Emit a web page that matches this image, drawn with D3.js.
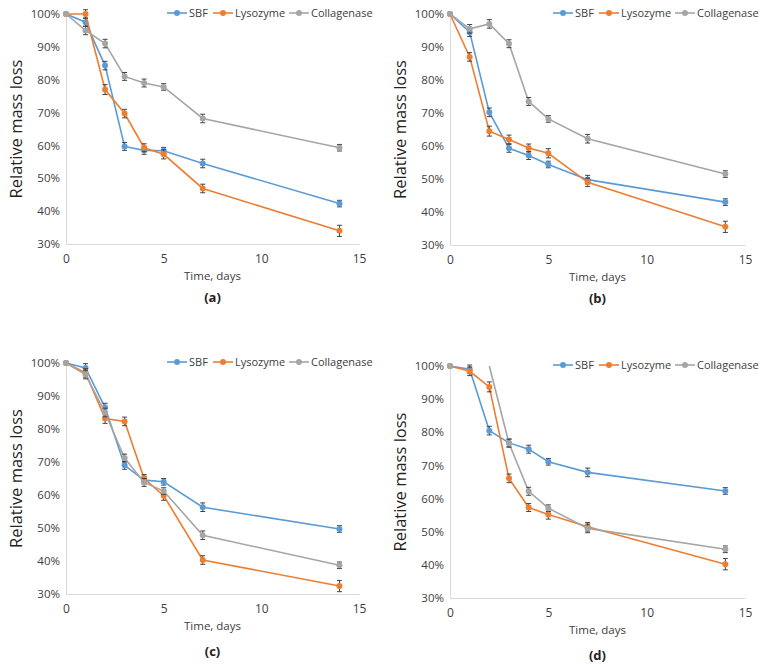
<!DOCTYPE html>
<html><head><meta charset="utf-8">
<script src="https://cdn.jsdelivr.net/npm/d3@7"></script>
<style>body{margin:0;background:#fff;font-family:"Open Sans",Arial,sans-serif}</style>
</head><body><svg width="763" height="667"></svg>
<script>
const days = [0, 1, 2, 3, 4, 5, 7, 14];
const seriesNames = ["SBF", "Lysozyme", "Collagenase"];
const colors = ["#5B9BD5", "#ED7D31", "#A5A5A5"];
const panelLabels = ["(a)", "(b)", "(c)", "(d)"];
const yTicks = [30, 40, 50, 60, 70, 80, 90, 100];
const xTicks = [0, 5, 10, 15];

const sbfA = [100, 97.5, 84.3, 59.7, 58.5, 58.4, 54.5, 42.3];
const lysA = [100, 100, 77, 69.7, 59.3, 57.3, 46.9, 34];
const colA = [100, 95, 91, 81, 79, 77.8, 68.2, 59.3];
const sbfB = [100, 94.5, 70.2, 59.3, 57.1, 54.4, 49.8, 43];
const lysB = [100, 87, 64.5, 62, 59.4, 57.8, 49, 35.5];
const colB = [100, 95.5, 97, 91, 73.5, 68.2, 62.2, 51.5];
const sbfC = [100, 98.5, 86.5, 69, 64.5, 64, 56.3, 49.7];
const lysC = [100, 97, 83.2, 82.3, 65, 59.8, 40.3, 32.4];
const colC = [100, 96.5, 85, 71.2, 63.8, 61.2, 47.8, 38.7];
const sbfD = [100, 99, 80.5, 76.8, 74.9, 71.1, 67.9, 62.3];
const lysD = [100, 98.4, 93.7, 66.1, 57.3, 55.2, 51.5, 40.2];
const colD = [100, null, 100, 76.7, 62.2, 57.1, 51, 44.7];
const errSmall = [0, 1.3, 1.3, 1.2, 1.2, 1, 1.3, 1];
const errLarge = [0, 1.3, 1.5, 1.3, 1.2, 1.4, 1.3, 1.7];

const panels = [
  {x0: 66, x1: 359, y0: 14, y1: 244, series: [sbfA, lysA, colA]},
  {x0: 450, x1: 745, y0: 14, y1: 245, series: [sbfB, lysB, colB]},
  {x0: 66, x1: 359, y0: 363, y1: 594, series: [sbfC, lysC, colC]},
  {x0: 450, x1: 745, y0: 366, y1: 598, series: [sbfD, lysD, colD]}
];

const svg = d3.select("svg");

panels.forEach((p, pi) => {
  const x = d3.scaleLinear().domain([0, 15]).range([p.x0, p.x1]);
  const y = d3.scaleLinear().domain([30, 100]).range([p.y1, p.y0]);
  const g = svg.append("g");

  g.append("g").attr("transform", `translate(0,${p.y1})`)
    .call(d3.axisBottom(x).tickValues(xTicks).tickSize(0).tickPadding(10))
    .call(a => a.select(".domain").attr("stroke", "#d9d9d9"))
    .selectAll("text").attr("font-size", 12).attr("fill", "#404040").attr("font-family", "Open Sans");
  g.append("g").attr("transform", `translate(${p.x0},0)`)
    .call(d3.axisLeft(y).tickValues(yTicks).tickSize(0).tickPadding(6).tickFormat(d => d + "%"))
    .call(a => a.select(".domain").attr("stroke", "#d9d9d9"))
    .selectAll("text").attr("font-size", 11.5).attr("fill", "#404040").attr("font-family", "Open Sans");

  g.append("text").attr("x", (p.x0 + p.x1) / 2).attr("y", p.y1 + 36)
    .attr("text-anchor", "middle").attr("font-size", 11.5).attr("fill", "#404040").text("Time, days");
  g.append("text").attr("x", (p.x0 + p.x1) / 2).attr("y", p.y1 + (pi < 2 ? 58 : 62))
    .attr("text-anchor", "middle").attr("font-size", 13).attr("font-weight", "bold").attr("fill", "#222").text(panelLabels[pi]);
  g.append("text").attr("transform", `translate(${p.x0 - 44},${(p.y0 + p.y1) / 2}) rotate(-90)`)
    .attr("text-anchor", "middle").attr("font-size", 16.5).attr("fill", "#222").text("Relative mass loss");

  const line = d3.line().defined(d => d[1] != null).x(d => x(d[0])).y(d => y(d[1]));
  p.series.forEach((vals, si) => {
    const pts = days.map((d, i) => [d, vals[i], (si === 1 ? errLarge : errSmall)[i]]);
    const drawn = pts.filter(d => d[1] != null && !(pi === 3 && si === 2 && d[0] === 2));
    g.append("path").datum(pts.filter(d => d[1] != null && !(pi === 3 && si === 2 && d[0] === 0)))
      .attr("d", line).attr("fill", "none").attr("stroke", colors[si]).attr("stroke-width", 1.6);
    const eb = g.append("g").attr("stroke", "#444").attr("stroke-width", 1);
    drawn.filter(d => d[2] > 0).forEach(d => {
      eb.append("line").attr("x1", x(d[0])).attr("x2", x(d[0])).attr("y1", y(d[1] - d[2])).attr("y2", y(d[1] + d[2]));
      [d[1] - d[2], d[1] + d[2]].forEach(v => eb.append("line")
        .attr("x1", x(d[0]) - 2.5).attr("x2", x(d[0]) + 2.5).attr("y1", y(v)).attr("y2", y(v)));
    });
    g.selectAll(null).data(drawn).enter().append("circle")
      .attr("cx", d => x(d[0])).attr("cy", d => y(d[1])).attr("r", 3).attr("fill", colors[si]);
  });

  // legend
  const lx = [p.x1 - 192, p.x1 - 146, p.x1 - 70];
  seriesNames.forEach((n, si) => {
    const lg = g.append("g").attr("transform", `translate(${lx[si]},${p.y0 - 1})`);
    lg.append("line").attr("x1", 0).attr("x2", 20).attr("stroke", colors[si]).attr("stroke-width", 1.6);
    lg.append("circle").attr("cx", 10).attr("r", 3).attr("fill", colors[si]);
    lg.append("text").attr("x", 22).attr("y", 4).attr("font-size", 11).attr("fill", "#404040").text(n);
  });
});
</script></body></html>
